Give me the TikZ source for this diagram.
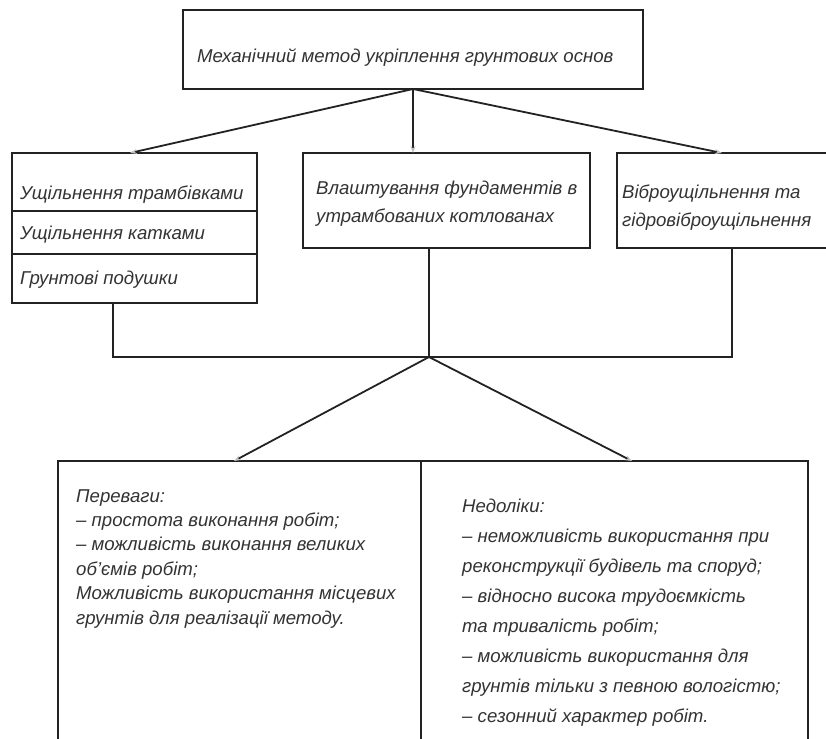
\documentclass[tikz,border=0pt]{standalone}
\usepackage{fontspec}
\setmainfont{Liberation Sans}
\usetikzlibrary{arrows.meta}
\definecolor{ink}{HTML}{222222}
\definecolor{txt}{HTML}{333333}
\begin{document}
\begin{tikzpicture}[x=1pt,y=-1pt,
  box/.style={draw=ink,line width=2pt,rectangle,inner sep=0pt,outer sep=0pt},
  lbl/.style={anchor=base west,inner sep=0pt,text=txt,font=\fontsize{18.6}{28}\selectfont\itshape,align=left},
  conn/.style={draw=ink,line width=1.8pt},
  arr/.style={conn,-{Stealth[length=7pt,width=5pt,color=gray!50]}}]
\clip (0,0) rectangle (826,738);
\fill[white] (0,0) rectangle (826,738);
% boxes
\node[box,minimum width=460pt,minimum height=79pt] (top) at (413,49.5) {};
\node[box,minimum width=245pt,minimum height=58pt] (L1) at (134.5,182) {};
\node[box,minimum width=245pt,minimum height=43pt] (L2) at (134.5,232.5) {};
\node[box,minimum width=245pt,minimum height=49pt] (L3) at (134.5,278.5) {};
\node[box,minimum width=287pt,minimum height=95pt] (M) at (446.5,200.5) {};
\node[box,minimum width=223pt,minimum height=95pt] (R) at (728.5,200.5) {};
\node[box,minimum width=363pt,minimum height=299pt] (BL) at (239.5,610.5) {};
\node[box,minimum width=387pt,minimum height=299pt] (BR) at (614.5,610.5) {};
% texts (base anchor = baseline of the last line)
\node[lbl] (t0) at (197,63) {Механічний метод укріплення грунтових основ};
\node[lbl] (t1) at (20,199) {Ущільнення трамбівками};
\node[lbl] (t2) at (20,239) {Ущільнення катками};
\node[lbl] (t3) at (20,284) {Грунтові подушки};
\node[lbl] (t4) at (316,222) {Влаштування фундаментів в\\утрамбованих котлованах};
\node[lbl] (t5) at (622,226) {Віброущільнення та\\гідровіброущільнення};
\node[lbl,font=\fontsize{18.6}{24.4}\selectfont\itshape] (t6) at (76,624) {Переваги:\\– простота виконання робіт;\\– можливість виконання великих\\об'ємів робіт;\\Можливість використання місцевих\\грунтів для реалізації методу.};
\node[lbl,font=\fontsize{18.6}{30}\selectfont\itshape] (t7) at (462,722) {Недоліки:\\– неможливість використання при\\реконструкції будівель та споруд;\\– відносно висока трудоємкість\\та тривалість робіт;\\– можливість використання для\\грунтів тільки з певною вологістю;\\– сезонний характер робіт.};
% connector coordinates
\coordinate (aL) at (130,153);
\coordinate (aR) at (722,153);
\coordinate (j) at (429,357);
\coordinate (bL) at (113,357);
\coordinate (bR) at (732,357);
\coordinate (dL) at (234,461);
\coordinate (dR) at (632,461);
% connectors
\draw[arr] (top.south) -- (aL);
\draw[arr] (top.south) -- (top.south |- M.north);
\draw[arr] (top.south) -- (aR);
\draw[conn] (L3.south -| bL) -- (bL) -- (bR) -- (R.south -| bR);
\draw[conn] (M.south -| j) -- (j);
\draw[arr] (j) -- (dL);
\draw[arr] (j) -- (dR);
\end{tikzpicture}
\end{document}
